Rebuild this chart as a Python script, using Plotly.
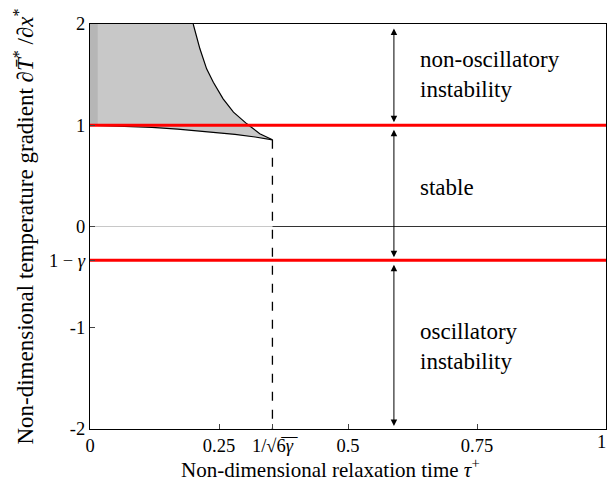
import numpy as np
import plotly.graph_objects as go

gamma = 4.0 / 3.0
tau_c = 1.0 / np.sqrt(6 * gamma)   # 1/sqrt(6 gamma)
g_low = 1 - gamma                  # 1 - gamma

# upper boundary of the shaded region
upper_tau = [0.200, 0.213, 0.226, 0.239, 0.258, 0.278, 0.304, 0.329, 0.3536]
upper_g = [2.00, 1.755, 1.557, 1.425, 1.261, 1.129, 1.014, 0.916, 0.856]

# lower boundary of the shaded region
lower_tau = [0.0, 0.06, 0.12, 0.17, 0.216, 0.25, 0.281, 0.32, 0.3536]
lower_g = [1.0, 0.993, 0.98, 0.962, 0.94, 0.925, 0.909, 0.884, 0.856]

# darker strip at the left edge
strip_tau = [0.0, 0.015]

x_tickvals = [0, 0.25, tau_c, 0.5, 0.75]
x_ticktext = ["0", "0.25", "1/√6̅<i>γ</i>̅", "0.5", "0.75"]
x_last_tick = (1, "1")
y_tickvals = [2, 1, 0, g_low, -1, -2]
y_ticktext = ["2", "1", "0", "1 − <i>γ</i>", "-1", "-2"]

arrow_tau = 0.589
arrow_spans = [(2, 1), (1, g_low), (g_low, -2)]
labels = ["non-oscillatory<br>instability", "stable", "oscillatory<br>instability"]
label_y = [1.506, 0.385, -1.185]
label_tau = 0.636

FONT = "Liberation Serif"
TICK = 18.5

fig = go.Figure()

# shaded region
poly_x = [0.0] + upper_tau + lower_tau[::-1]
poly_y = [2.0] + upper_g + lower_g[::-1]
fig.add_trace(go.Scatter(x=poly_x, y=poly_y, fill="toself", fillcolor="#c8c8c8",
                         line=dict(width=0), mode="lines", hoverinfo="skip"))
fig.add_trace(go.Scatter(x=[strip_tau[0], strip_tau[1], strip_tau[1], strip_tau[0]],
                         y=[1, 1, 2, 2], fill="toself", fillcolor="#b6b6b6",
                         line=dict(width=0), mode="lines", hoverinfo="skip"))

# zero lines
fig.add_trace(go.Scatter(x=[0, tau_c], y=[0, 0], mode="lines",
                         line=dict(color="#c8c8c8", width=1)))
fig.add_trace(go.Scatter(x=[tau_c, 1], y=[0, 0], mode="lines",
                         line=dict(color="#333333", width=1)))

# boundary curves
fig.add_trace(go.Scatter(x=upper_tau, y=upper_g, mode="lines",
                         line=dict(color="black", width=1.2)))
fig.add_trace(go.Scatter(x=lower_tau, y=lower_g, mode="lines",
                         line=dict(color="black", width=1.2)))

# dashed vertical line
fig.add_trace(go.Scatter(x=[tau_c, tau_c], y=[upper_g[-1], -2], mode="lines",
                         line=dict(color="black", width=1.3, dash="dash")))

# red stability limits
fig.add_trace(go.Scatter(x=[0, 1], y=[1, 1], mode="lines",
                         line=dict(color="#ff0000", width=3.2)))
fig.add_trace(go.Scatter(x=[0, 1], y=[g_low, g_low], mode="lines",
                         line=dict(color="#ff0000", width=3.2)))

# double arrows
for (a, b) in arrow_spans:
    fig.add_annotation(x=arrow_tau, y=b, ax=arrow_tau, ay=a, xref="x", yref="y",
                       axref="x", ayref="y", showarrow=True, text="",
                       arrowhead=2, startarrowhead=2, arrowside="end+start",
                       arrowsize=1.3, startarrowsize=1.3, arrowwidth=1,
                       arrowcolor="black", standoff=3, startstandoff=3)

for txt, yy in zip(labels, label_y):
    fig.add_annotation(x=label_tau, y=yy, xref="x", yref="y", text=txt,
                       showarrow=False, xanchor="left", align="left",
                       font=dict(family=FONT, size=23, color="black"))

# last x tick label (at the very edge, kept inside the picture)
fig.add_annotation(x=x_last_tick[0], y=0, xref="x", yref="paper", text=x_last_tick[1],
                   showarrow=False, xanchor="right", yanchor="top", yshift=-2, xshift=1,
                   borderpad=0,
                   font=dict(family=FONT, size=TICK, color="black"))

# x-axis title
fig.add_annotation(x=0.467, y=0, xref="paper", yref="paper",
                   text="Non-dimensional relaxation time <i>τ</i><sup>+</sup>",
                   showarrow=False, xanchor="center", yanchor="middle", yshift=-39,
                   font=dict(family=FONT, size=21, color="black"))

fig.update_layout(
    width=607, height=486, autosize=False,
    margin=dict(l=90, r=1, t=24, b=57, autoexpand=False),
    plot_bgcolor="white", paper_bgcolor="white",
    showlegend=False,
    font=dict(family=FONT, size=TICK, color="black"),
)
fig.update_xaxes(range=[0, 1], tickvals=x_tickvals, ticktext=x_ticktext,
                 ticks="inside", ticklen=5, tickcolor="#444", showgrid=False,
                 zeroline=False, showline=True, linecolor="black", linewidth=1.3,
                 mirror=True, tickfont=dict(family=FONT, size=TICK), automargin=False)
fig.update_yaxes(range=[-2, 2], tickvals=y_tickvals, ticktext=y_ticktext,
                 ticks="inside", ticklen=5, tickcolor="#444", showgrid=False,
                 zeroline=False, showline=True, linecolor="black", linewidth=1.3,
                 mirror=True, tickfont=dict(family=FONT, size=TICK), automargin=False,
                 title=dict(text="Non-dimensional temperature gradient <i>∂T̄</i><sup>*</sup> /<i>∂x</i><sup>*</sup>",
                            font=dict(family=FONT, size=23), standoff=8))

post = ("document.body.style.margin='0px';document.body.style.overflow='hidden';"
        "var gd=document.getElementById('{plot_id}');"
        "Plotly.relayout(gd,{width:607,height:486});")
fig.write_html("out.html", config={"responsive": False, "displayModeBar": False},
               post_script=post)
